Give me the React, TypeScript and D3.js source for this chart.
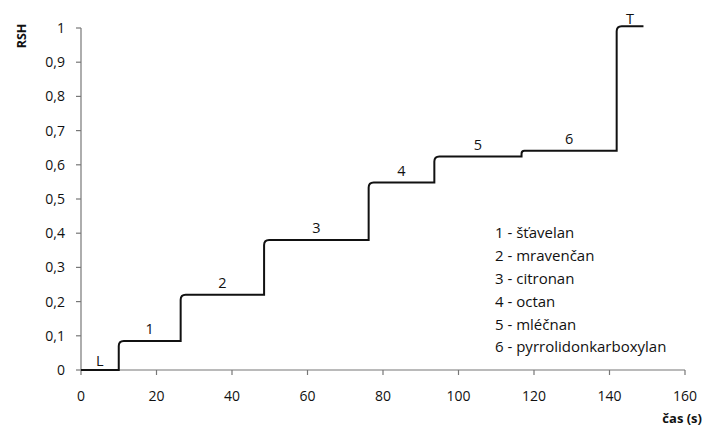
import React from 'react';
import * as d3 from 'd3';

const width = 704;
const height = 431;
const margin = { top: 28, right: 19, bottom: 61, left: 81 };

// zone boundaries (s) and RSH level of each zone
const boundaries = [0, 10, 26.4, 48.5, 76.2, 93.6, 116.7, 141.9, 149];
const levels = [0, 0.085, 0.22, 0.38, 0.548, 0.624, 0.641, 1.005];
const zoneLabels = ['L', '1', '2', '3', '4', '5', '6', 'T'];

const legendItems = [
  '1 - šťavelan',
  '2 - mravenčan',
  '3 - citronan',
  '4 - octan',
  '5 - mléčnan',
  '6 - pyrrolidonkarboxylan',
];

const xTicks = [0, 20, 40, 60, 80, 100, 120, 140, 160];
const yTicks = [0, 0.1, 0.2, 0.3, 0.4, 0.5, 0.6, 0.7, 0.8, 0.9, 1];

const font = '"Open Sans", sans-serif';
const axisColor = '#777';

const x = d3.scaleLinear().domain([0, 160]).range([margin.left, width - margin.right]);
const y = d3.scaleLinear().domain([0, 1]).range([height - margin.bottom, margin.top]);

// step curve with slightly rounded top corners at each rise
function stepPath() {
  const p = d3.path();
  p.moveTo(x(boundaries[0]), y(levels[0]));
  for (let i = 0; i < levels.length; i++) {
    const xEnd = x(boundaries[i + 1]);
    p.lineTo(xEnd, y(levels[i]));
    if (i + 1 < levels.length) {
      const rise = y(levels[i]) - y(levels[i + 1]);
      const r = Math.min(5, rise / 2);
      p.lineTo(xEnd, y(levels[i + 1]) + r);
      p.quadraticCurveTo(xEnd, y(levels[i + 1]), xEnd + r, y(levels[i + 1]));
    }
  }
  return p.toString();
}

const fmt = (d: number) => (d === 0 || d === 1 ? String(d) : d3.format('.1f')(d).replace('.', ','));

export default function App() {
  const x0 = x(0);
  const y0 = y(0);
  return (
    <div style={{ position: 'fixed', left: 0, top: 0 }}>
      <svg width={width} height={height} style={{ display: 'block', background: '#fff' }}>
        {/* axes */}
        <line x1={x0} x2={x(160)} y1={y0} y2={y0} stroke={axisColor} strokeWidth={1.2} />
        <line x1={x0} x2={x0} y1={y(1)} y2={y0} stroke={axisColor} strokeWidth={1.2} />
        {xTicks.map((t) => (
          <g key={`x${t}`}>
            <line x1={x(t)} x2={x(t)} y1={y0} y2={y0 + 5} stroke={axisColor} strokeWidth={1.2} />
            <text x={x(t)} y={y0 + 31} textAnchor="middle" fontFamily={font} fontSize={14} fill="#111">
              {t}
            </text>
          </g>
        ))}
        {yTicks.map((t) => (
          <g key={`y${t}`}>
            <line x1={x0 - 5} x2={x0} y1={y(t)} y2={y(t)} stroke={axisColor} strokeWidth={1.2} />
            <text x={x0 - 16} y={y(t)} dy="0.36em" textAnchor="end" fontFamily={font} fontSize={14} fill="#111">
              {fmt(t)}
            </text>
          </g>
        ))}
        <text
          transform={`translate(26, 36) rotate(-90)`}
          textAnchor="middle"
          fontFamily={font}
          fontWeight="bold"
          fontSize={12.5}
          fill="#111"
        >
          RSH
        </text>
        <text x={702} y={423} textAnchor="end" fontFamily={font} fontWeight="bold" fontSize={13} fill="#111">
          čas (s)
        </text>

        {/* curve */}
        <path d={stepPath()} fill="none" stroke="#111" strokeWidth={2} />

        {/* zone labels */}
        {zoneLabels.map((lab, i) => (
          <text
            key={lab}
            x={x((boundaries[i] + boundaries[i + 1]) / 2)}
            y={y(levels[i]) - (i === 0 ? 4 : i === levels.length - 1 ? 2 : 7)}
            textAnchor="middle"
            fontFamily={font}
            fontSize={14.5}
            fill="#111"
          >
            {lab}
          </text>
        ))}

        {/* legend */}
        {legendItems.map((item, i) => (
          <text key={item} x={495} y={233 + i * 22.8} dy="0.36em" fontFamily={font} fontSize={15} fill="#111">
            {item}
          </text>
        ))}
      </svg>
    </div>
  );
}
